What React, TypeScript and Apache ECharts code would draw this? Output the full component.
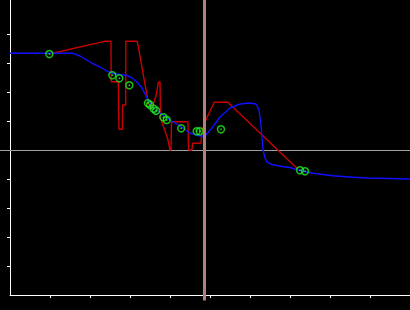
import React, { useEffect, useRef } from "react";
import * as echarts from "echarts";

// Blue curve (x, y)
const blueX = [0, 1.575, 1.75, 2.0, 2.25, 2.425, 2.575, 2.75, 2.925, 3.05, 3.175, 3.3, 3.45, 3.55, 3.75, 4.0, 4.25, 4.5, 4.75, 4.875, 5.05, 5.25, 5.5, 5.75, 6.0, 6.15, 6.225, 6.275, 6.325, 6.375, 6.425, 6.55, 6.8, 7.0, 7.2, 7.575, 8.075, 8.575, 8.925, 9.75, 10];
const blueY = [3.334, 3.334, 3.241, 3.034, 2.862, 2.724, 2.638, 2.603, 2.569, 2.483, 2.345, 2.138, 1.724, 1.517, 1.276, 1.034, 0.828, 0.586, 0.483, 0.483, 0.759, 1.138, 1.448, 1.586, 1.621, 1.586, 1.379, 0.862, 0.0, -0.276, -0.414, -0.5, -0.569, -0.603, -0.69, -0.803, -0.886, -0.941, -0.966, -0.99, -1.0];

// Red step-like line (x, y)
const redX = [0.983, 2.357, 2.525, 2.53, 2.708, 2.713, 2.725, 2.808, 2.813, 2.893, 2.895, 3.183, 3.45, 3.525, 3.65, 3.713, 3.75, 3.763, 3.85, 3.95, 4.0, 4.025, 4.038, 4.45, 4.463, 4.55, 4.563, 4.775, 4.793, 4.825, 4.875, 5.108, 5.443, 7.193];
const redY = [3.31, 3.748, 3.748, 2.355, 2.355, 1.552, 0.714, 0.714, 1.552, 1.552, 3.748, 3.748, 1.69, 1.379, 1.862, 2.345, 2.345, 1.103, 0.759, 0.345, 0, 0, 0.976, 0.976, 0, 0, 0.231, 0.231, 0.586, 0.759, 0.976, 1.645, 1.645, -0.655];

// Green markers (x, y)
const markX = [0.983, 2.558, 2.733, 2.983, 3.45, 3.5, 3.593, 3.65, 3.833, 3.918, 4.28, 4.668, 4.743, 5.275, 7.25, 7.375];
const markY = [3.31, 2.576, 2.472, 2.231, 1.614, 1.552, 1.424, 1.355, 1.128, 1.034, 0.748, 0.645, 0.645, 0.714, -0.7, -0.734];

// Reference lines
const refX = 4.8625;
const refY = 0;

// Axis extents / ticks
const xMin = 0;
const xMax = 10;
const yMin = -5;
const yMax = 5.1724;
const xTicks = [1, 2, 3, 4, 5, 6, 7, 8, 9];
const yTicks = [-4, -3, -2, -1, 0, 1, 2, 3, 4];

const zip = (a: number[], b: number[]) => a.map((v, i) => [v, b[i]]);

export default function App() {
  const ref = useRef<HTMLDivElement>(null);
  useEffect(() => {
    document.body.style.margin = "0";
    document.body.style.background = "#000";
    const chart = echarts.init(ref.current!, undefined, { renderer: "svg" });
    const axisCommon = {
      type: "value" as const,
      splitLine: { show: false },
      axisLabel: { show: false },
      axisLine: { show: true, onZero: false, lineStyle: { color: "#ffffff", width: 1 } },
    };
    chart.setOption({
      animation: false,
      backgroundColor: "#000000",
      grid: { left: 10, right: 0, top: 0, bottom: 15, containLabel: false },
      xAxis: {
        ...axisCommon,
        min: xMin,
        max: xMax,
        interval: 1,
        axisTick: { show: true, length: 3, customValues: xTicks, lineStyle: { color: "#ffffff" } },
      },
      yAxis: {
        ...axisCommon,
        min: yMin,
        max: yMax,
        interval: 1,
        axisTick: { show: true, length: 3, customValues: yTicks, lineStyle: { color: "#ffffff" } },
      },
      series: [
        {
          type: "line",
          data: zip(blueX, blueY),
          showSymbol: false,
          lineStyle: { color: "#1010ff", width: 1.4 },
          z: 3,
        },
        {
          type: "line",
          data: zip(redX, redY),
          showSymbol: false,
          lineStyle: { color: "#c80000", width: 1.4 },
          z: 2,
        },
        {
          type: "scatter",
          data: zip(markX, markY),
          symbol: "circle",
          symbolSize: 7,
          itemStyle: { color: "rgba(0,0,0,0)", borderColor: "#1ef01e", borderWidth: 1.5 },
          z: 4,
        },
        {
          type: "scatter",
          data: zip(markX, markY),
          symbol: "circle",
          symbolSize: 1.8,
          itemStyle: { color: "#1ef01e" },
          z: 5,
        },
      ],
    });
    const [px, py] = chart.convertToPixel({ gridIndex: 0 }, [refX, refY]) as number[];
    const [, pyBottom] = chart.convertToPixel({ gridIndex: 0 }, [refX, yMin]) as number[];
    const width = chart.getWidth();
    const hy = Math.round(py) + 0.5;
    chart.setOption({
      graphic: [
        {
          type: "line",
          z: 1,
          shape: { x1: 0, y1: hy, x2: width, y2: hy },
          style: { stroke: "#a0a0a0", lineWidth: 1 },
        },
        {
          type: "line",
          z: 100,
          shape: { x1: px, y1: 0, x2: px, y2: pyBottom + 5.5 },
          style: { stroke: "#b08080", lineWidth: 3 },
        },
      ],
    });
    return () => chart.dispose();
  }, []);
  return <div ref={ref} style={{ width: 410, height: 310, background: "#000" }} />;
}
